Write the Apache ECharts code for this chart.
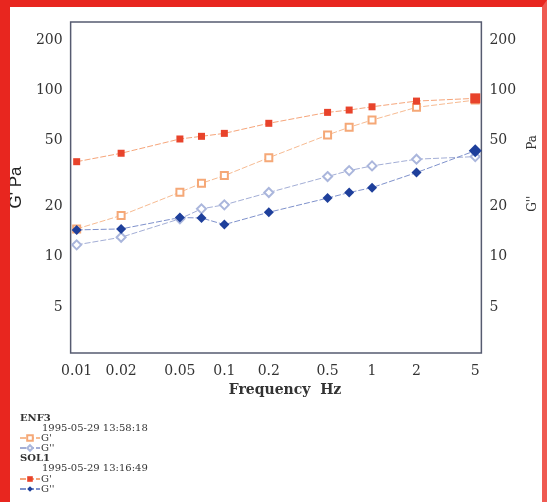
<!DOCTYPE html>
<html>
<head>
<meta charset="utf-8">
<script src="https://cdn.jsdelivr.net/npm/echarts@6/dist/echarts.min.js"></script>
<style>
    html, body { margin: 0; padding: 0; background: #fff; }
    #chart { position: absolute; left: 0; top: 0; width: 547px; height: 502px; background: #fff; }
    #frame {
        position: absolute; left: 0; top: 0; width: 547px; height: 502px; box-sizing: border-box;
        border-left: 10px solid #e8261f; border-top: 7px solid #e8261f; border-right: 5px solid #ef5a52;
        pointer-events: none;
    }
</style>
</head>
<body>
<div id="chart"></div>
<div id="frame"></div>
<script>
// frequency (Hz)
const freq = [0.01, 0.02, 0.05, 0.07, 0.1, 0.2, 0.5, 0.7, 1, 2, 5];
// ENF3 (open markers)
const enf3Gp = [14.7, 17.7, 24.4, 27.6, 30.7, 39.3, 53.8, 59.8, 66.1, 78.8, 87.1];
const enf3Gpp = [11.8, 13.1, 16.9, 19.4, 20.5, 24.3, 30.3, 32.9, 35.1, 38.5, 39.9];
// SOL1 (filled markers)
const sol1Gp = [37.2, 41.8, 50.9, 52.8, 55.0, 63.2, 73.5, 75.9, 79.4, 85.9, 89.2];
const sol1Gpp = [14.5, 14.7, 17.2, 17.1, 15.6, 18.5, 22.5, 24.3, 26.0, 32.0, 43.3];
// tick labels
const xTicks = [0.01, 0.02, 0.05, 0.1, 0.2, 0.5, 1, 2, 5];
const yTicks = [5, 10, 20, 50, 100, 200];

const serif = 'DejaVu Serif';

function pairs(ys, bigSize) {
    return freq.map((f, i) => {
        let item = {value: [f, ys[i]]};
        if (bigSize && i === freq.length - 1) item.symbolSize = bigSize;//最后一点较大
        return item;
    });
}

let yAxisBase = {
    type: 'log',
    logBase: 10,
    min: 2.65,
    max: 256,
    axisLine: {show: false},
    axisTick: {show: false},
    splitLine: {show: false},
    axisLabel: {
        customValues: yTicks,
        formatter: v => String(v),
        fontFamily: serif,
        fontSize: 14,
        color: '#333',
        margin: 8
    }
};

let legendBase = {
    orient: 'vertical',
    left: 19,
    padding: 0,
    itemWidth: 20, itemHeight: 7, itemGap: 0,
    formatter: n => n.split(' ')[1],
    textStyle: {fontFamily: serif, fontSize: 10, lineHeight: 9, color: '#333', padding: [0, 0, 0, -4]}
};

let option = {
    animation: false,
    grid: {
        left: 67, right: 65, top: 22, bottom: 149,
        show: true,
        borderColor: '#565b70',
        borderWidth: 1.5,
        backgroundColor: '#fff'
    },
    xAxis: {
        type: 'log',
        logBase: 10,
        min: 0.0091,
        max: 5.5,
        name: 'Frequency  Hz',
        nameLocation: 'middle',
        nameGap: 14,
        nameTextStyle: {fontFamily: serif, fontSize: 14, fontWeight: 'bold', color: '#333', padding: [0, 0, 0, 18]},
        axisLine: {show: false},
        axisTick: {show: false},
        splitLine: {show: false},
        axisLabel: {
            customValues: xTicks,
            formatter: v => String(v),
            fontFamily: serif,
            fontSize: 14,
            color: '#333',
            margin: 11
        }
    },
    yAxis: [
        Object.assign({}, yAxisBase, {
            position: 'left',
            name: "G' Pa",
            nameLocation: 'middle',
            nameRotate: 90,
            nameGap: 40,
            nameTextStyle: {fontFamily: 'Liberation Sans', fontSize: 17, color: '#222'}
        }),
        Object.assign({}, yAxisBase, {
            position: 'right',
            name: "G''            Pa",
            nameLocation: 'middle',
            nameRotate: 90,
            nameGap: 38,
            nameTextStyle: {fontFamily: serif, fontSize: 12, color: '#333', padding: [0, 0, 0, 28]}
        })
    ],
    legend: [
        Object.assign({}, legendBase, {data: ["ENF3 G'", "ENF3 G''"], top: 433}),
        Object.assign({}, legendBase, {data: ["SOL1 G'", "SOL1 G''"], top: 474})
    ],
    graphic: [
        {type: 'text', left: 20, top: 413, style: {text: 'ENF3', font: 'bold 10px "DejaVu Serif"', fill: '#333'}},
        {type: 'text', left: 42, top: 423, style: {text: '1995-05-29 13:58:18', font: '10px "DejaVu Serif"', fill: '#333'}},
        {type: 'text', left: 20, top: 453, style: {text: 'SOL1', font: 'bold 10px "DejaVu Serif"', fill: '#333'}},
        {type: 'text', left: 42, top: 463, style: {text: '1995-05-29 13:16:49', font: '10px "DejaVu Serif"', fill: '#333'}}
    ],
    series: [
        {
            name: "ENF3 G''",
            type: 'line',
            data: pairs(enf3Gpp),
            symbol: 'emptyDiamond',
            symbolSize: 9,
            itemStyle: {color: '#aab6dc', borderWidth: 1},
            lineStyle: {color: '#a3aed6', width: 1, type: [6, 2]}
        },
        {
            name: "ENF3 G'",
            type: 'line',
            data: pairs(enf3Gp),
            symbol: 'emptyRect',
            symbolSize: 7,
            itemStyle: {color: '#f5a877', borderWidth: 1},
            lineStyle: {color: '#f7bb92', width: 1, type: [6, 2]}
        },
        {
            name: "SOL1 G''",
            type: 'line',
            data: pairs(sol1Gpp, 13),
            symbol: 'diamond',
            symbolSize: 10,
            itemStyle: {color: '#1e3f9b'},
            lineStyle: {color: '#7f92cc', width: 1, type: [6, 2]}
        },
        {
            name: "SOL1 G'",
            type: 'line',
            data: pairs(sol1Gp, 10),
            symbol: 'rect',
            symbolSize: 7,
            itemStyle: {color: '#e8432b'},
            lineStyle: {color: '#f6a57a', width: 1, type: [6, 2]}
        }
    ]
};

let myChart = echarts.init(document.getElementById('chart'));
myChart.setOption(option);
</script>
</body>
</html>
